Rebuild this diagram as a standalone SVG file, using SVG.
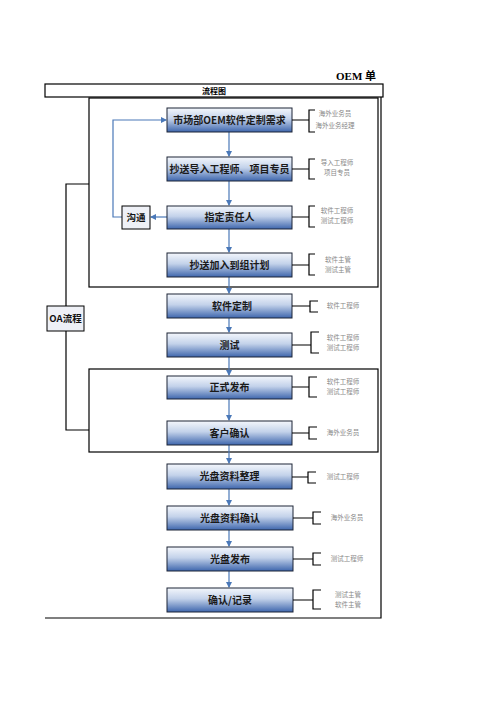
<svg xmlns="http://www.w3.org/2000/svg" width="496" height="702" viewBox="0 0 496 702">
<defs>
<linearGradient id="ng" x1="0" y1="0" x2="0" y2="1">
<stop offset="0" stop-color="#f4f7fc"/>
<stop offset="0.45" stop-color="#c3d2ea"/>
<stop offset="1" stop-color="#3e66ad"/>
</linearGradient>
<marker id="ah" markerWidth="6" markerHeight="6" refX="5" refY="3" orient="auto" markerUnits="userSpaceOnUse">
<path d="M0,0 L6,3 L0,6 Z" fill="#4a78b8"/>
</marker>
</defs>
<style>
.node{fill:url(#ng);stroke:#1c2536;stroke-width:1}
.nt{font-family:"Noto Sans CJK SC","Liberation Serif",serif;font-weight:bold;font-size:10px;fill:#1a1a1a;text-anchor:middle}
.side{fill:#eef0f6;stroke:#000;stroke-width:1}
.st{font-family:"Noto Sans CJK SC","Liberation Serif",serif;font-weight:bold;font-size:9.5px;fill:#111;text-anchor:middle}
.role{font-family:"Noto Sans CJK SC","Liberation Serif",serif;font-size:6.5px;fill:#888;text-anchor:middle}
.br{fill:none;stroke:#000;stroke-width:1.2}
.frame{fill:none;stroke:#000;stroke-width:1.2}
.flow{fill:none;stroke:#4a78b8;stroke-width:1.2}
</style>
<rect width="496" height="702" fill="#fff"/>
<text x="356" y="80" font-family="Liberation Serif, Noto Sans CJK SC, serif" font-weight="bold" font-size="11" text-anchor="middle">OEM 单</text>
<g id="frame">
<rect class="frame" x="45" y="84" width="338" height="13"/>
<text x="214" y="94" font-family="Noto Sans CJK SC, sans-serif" font-weight="bold" font-size="8" text-anchor="middle">流程图</text>
<polyline class="frame" points="381,97 381,618 45,618"/>
<rect class="frame" x="89" y="98" width="289" height="189"/>
<rect class="frame" x="89" y="369" width="289" height="83"/>
</g>
<g id="connectors">
<line class="flow" x1="229" y1="132" x2="229" y2="156" marker-end="url(#ah)"/>
<line class="flow" x1="229" y1="181" x2="229" y2="205" marker-end="url(#ah)"/>
<line class="flow" x1="229" y1="229" x2="229" y2="252" marker-end="url(#ah)"/>
<line class="flow" x1="229" y1="277" x2="229" y2="293" marker-end="url(#ah)"/>
<line class="flow" x1="229" y1="318" x2="229" y2="332" marker-end="url(#ah)"/>
<line class="flow" x1="229" y1="357" x2="229" y2="375" marker-end="url(#ah)"/>
<line class="flow" x1="229" y1="399" x2="229" y2="420" marker-end="url(#ah)"/>
<line class="flow" x1="229" y1="445" x2="229" y2="463" marker-end="url(#ah)"/>
<line class="flow" x1="229" y1="489" x2="229" y2="505" marker-end="url(#ah)"/>
<line class="flow" x1="229" y1="530" x2="229" y2="546" marker-end="url(#ah)"/>
<line class="flow" x1="229" y1="571" x2="229" y2="587" marker-end="url(#ah)"/>
<line class="flow" x1="167" y1="217" x2="151" y2="217" marker-end="url(#ah)"/>
<polyline class="flow" points="122,217 113,217 113,120 166,120" marker-end="url(#ah)"/>
<polyline class="br" points="89,184 66,184 66,430 89,430"/>
</g>
<g id="n1"><rect class="node" x="167" y="108" width="125" height="24"/><text class="nt" x="229.5" y="123.5" font-size="9.6">市场部OEM软件定制需求</text></g>
<g id="n2"><rect class="node" x="167" y="157" width="125" height="24"/><text class="nt" x="229.5" y="172.5" font-size="9.5">抄送导入工程师、项目专员</text></g>
<g id="n3"><rect class="node" x="167" y="206" width="125" height="23"/><text class="nt" x="229.5" y="221">指定责任人</text></g>
<g id="n4"><rect class="node" x="167" y="253" width="125" height="24"/><text class="nt" x="229.5" y="268.5">抄送加入到组计划</text></g>
<g id="n5"><rect class="node" x="167" y="294" width="125" height="24"/><text class="nt" x="232" y="309.5">软件定制</text></g>
<g id="n6"><rect class="node" x="167" y="333" width="125" height="24"/><text class="nt" x="229.5" y="348.5">测试</text></g>
<g id="n7"><rect class="node" x="167" y="376" width="125" height="23"/><text class="nt" x="229.5" y="391">正式发布</text></g>
<g id="n8"><rect class="node" x="167" y="421" width="125" height="24"/><text class="nt" x="229.5" y="436.5">客户确认</text></g>
<g id="n9"><rect class="node" x="167" y="464" width="125" height="25"/><text class="nt" x="229.5" y="480">光盘资料整理</text></g>
<g id="n10"><rect class="node" x="167" y="506" width="126" height="24"/><text class="nt" x="230" y="521.5">光盘资料确认</text></g>
<g id="n11"><rect class="node" x="167" y="547" width="126" height="24"/><text class="nt" x="230" y="562.5">光盘发布</text></g>
<g id="n12"><rect class="node" x="167" y="588" width="126" height="24"/><text class="nt" x="230" y="603.5">确认/记录</text></g>
<g id="goutong"><rect class="side" x="122" y="206" width="28" height="23"/><text class="st" x="136" y="221">沟通</text></g>
<g id="oa"><rect class="side" x="47" y="306" width="37" height="25"/><text class="st" x="65.5" y="322">OA流程</text></g>
<g id="roles">
<path class="br" d="M292,120 H309 M315,110 H309 V132 H315"/>
<text class="role" x="335" y="116">海外业务员</text><text class="role" x="335" y="128">海外业务经理</text>
<path class="br" d="M292,169 H309 M315,159 H309 V179 H315"/>
<text class="role" x="337" y="165">导入工程师</text><text class="role" x="337" y="175">项目专员</text>
<path class="br" d="M292,217 H309 M315,206 H309 V227 H315"/>
<text class="role" x="337" y="213">软件工程师</text><text class="role" x="337" y="223">测试工程师</text>
<path class="br" d="M292,265 H309 M315,254 H309 V275 H315"/>
<text class="role" x="338" y="262">软件主管</text><text class="role" x="338" y="272">测试主管</text>
<path class="br" d="M292,306 H310 M318,301 H310 V312 H318"/>
<text class="role" x="343" y="308">软件工程师</text>
<path class="br" d="M292,345 H311 M319,332 H311 V353 H319"/>
<text class="role" x="343" y="340">软件工程师</text><text class="role" x="343" y="350">测试工程师</text>
<path class="br" d="M292,387 H309 M317,377 H309 V397 H317"/>
<text class="role" x="343" y="384">软件工程师</text><text class="role" x="343" y="394">测试工程师</text>
<path class="br" d="M292,433 H309 M317,427 H309 V439 H317"/>
<text class="role" x="343" y="435">海外业务员</text>
<path class="br" d="M292,477 H308 M316,472 H308 V483 H316"/>
<text class="role" x="343" y="479">测试工程师</text>
<path class="br" d="M293,518 H313 M321,512 H313 V524 H321"/>
<text class="role" x="347" y="520">海外业务员</text>
<path class="br" d="M293,559 H313 M321,553 H313 V565 H321"/>
<text class="role" x="347" y="561">测试工程师</text>
<path class="br" d="M293,600 H313 M321,590 H313 V609 H321"/>
<text class="role" x="348" y="597">测试主管</text><text class="role" x="348" y="607">软件主管</text>
</g>
</svg>
